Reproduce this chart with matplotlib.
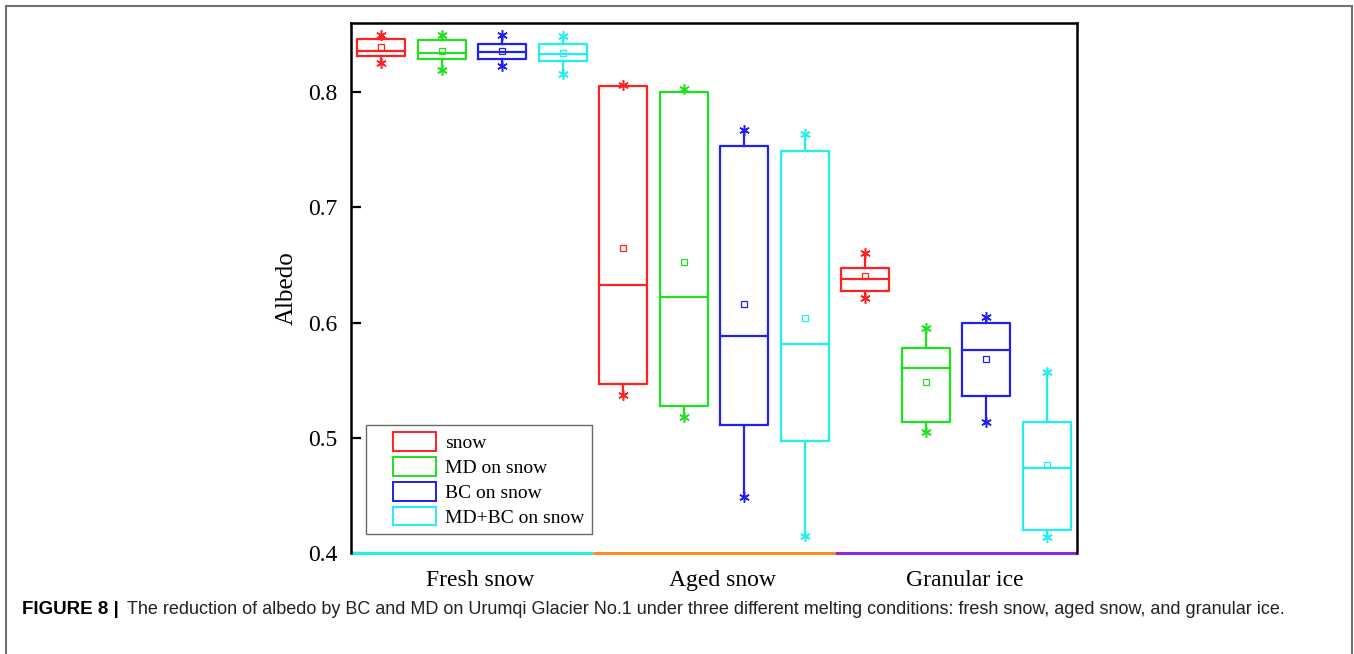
import numpy as np
import matplotlib.pyplot as plt
from matplotlib.patches import Rectangle, Patch
from matplotlib.legend_handler import HandlerPatch

# groups and series
groups = ["Fresh snow", "Aged snow", "Granular ice"]
series = ["snow", "MD on snow", "BC on snow", "MD+BC on snow"]
colors = ["#ff2020", "#20e020", "#2020f0", "#20f0f0"]
group_line_colors = ["#20f0f0", "#ff8c1a", "#8a2be2"]

# box statistics per group, per series
whislo = [[0.825, 0.819, 0.823, 0.816],
          [0.537, 0.518, 0.449, 0.415],
          [0.621, 0.505, 0.514, 0.414]]
q1 = [[0.831, 0.829, 0.829, 0.827],
      [0.547, 0.528, 0.511, 0.497],
      [0.627, 0.514, 0.536, 0.420]]
med = [[0.836, 0.834, 0.835, 0.833],
       [0.633, 0.622, 0.588, 0.581],
       [0.638, 0.561, 0.576, 0.474]]
q3 = [[0.846, 0.845, 0.842, 0.842],
      [0.805, 0.800, 0.753, 0.749],
      [0.647, 0.578, 0.600, 0.514]]
whishi = [[0.850, 0.850, 0.850, 0.849],
          [0.806, 0.803, 0.767, 0.764],
          [0.660, 0.595, 0.605, 0.557]]
means = [[0.839, 0.836, 0.836, 0.834],
         [0.665, 0.653, 0.616, 0.604],
         [0.640, 0.548, 0.568, 0.476]]

plt.rcParams["font.family"] = ["Liberation Serif", "DejaVu Serif"]

fig = plt.figure(figsize=(13.54, 6.54), dpi=100)
ax = fig.add_axes([351 / 1354, 1 - 553 / 654, 726 / 1354, 530 / 654])

for g in range(len(groups)):
    for i in range(len(series)):
        pos = g + 0.125 + 0.25 * i
        stats = [dict(med=med[g][i], q1=q1[g][i], q3=q3[g][i],
                      whislo=whislo[g][i], whishi=whishi[g][i],
                      mean=means[g][i], fliers=[])]
        c = colors[i]
        ax.bxp(stats, positions=[pos], widths=0.2, showmeans=True,
               showcaps=False, showfliers=False,
               boxprops=dict(color=c, linewidth=1.6),
               medianprops=dict(color=c, linewidth=1.6),
               whiskerprops=dict(color=c, linewidth=1.6),
               meanprops=dict(marker="s", markersize=5, markerfacecolor="none",
                              markeredgecolor=c, markeredgewidth=0.9))
        ax.plot([pos, pos], [whislo[g][i], whishi[g][i]], linestyle="none",
                marker=(6, 2, 0), markersize=7.5, color=c, markeredgewidth=1.1)

ax.set_xlim(0, 3)
ax.set_ylim(0.4, 0.86)
ax.set_yticks([0.4, 0.5, 0.6, 0.7, 0.8])
ax.set_yticklabels(["0.4", "0.5", "0.6", "0.7", "0.8"])
ax.set_xticks(np.arange(len(groups)) + 0.535)
ax.set_xticklabels(groups)
ax.tick_params(axis="y", direction="in", length=7, width=1.6, labelsize=17, pad=10)
ax.tick_params(axis="x", length=0, labelsize=17, pad=12)
ax.set_ylabel("Albedo", fontsize=18, labelpad=7)

for s in ["left", "right", "top"]:
    ax.spines[s].set_linewidth(1.8)
ax.spines["bottom"].set_visible(False)
for g in range(len(groups)):
    ax.plot([g, g + 1], [0.4, 0.4], color=group_line_colors[g], linewidth=2.2,
            clip_on=False, solid_capstyle="butt")


def offset_rect(legend, orig_handle, xdescent, ydescent, width, height, fontsize):
    # swatch sits in the right part of the handle area
    w = width * 0.69
    return Rectangle((-xdescent + width - w, -ydescent), w, height)


handles = [Patch(facecolor="white", edgecolor=c, linewidth=1.4) for c in colors]
leg = ax.legend(handles, series, loc="lower left", bbox_to_anchor=(0.021, 0.035),
                fontsize=14, frameon=True, fancybox=False, handlelength=3.2,
                handleheight=1.1, labelspacing=0.25, borderpad=0.4,
                borderaxespad=0, handletextpad=0.45,
                handler_map={Patch: HandlerPatch(patch_func=offset_rect)})
leg.get_frame().set_edgecolor("#444444")
leg.get_frame().set_linewidth(1.0)

# outer frame
fig.patches.append(Rectangle((6 / 1354, -0.05), 1346 / 1354, 1 - 6 / 654 + 0.05,
                             transform=fig.transFigure, fill=False,
                             edgecolor="#707070", linewidth=1.5))

fig.text(22 / 1354, 1 - 610 / 654, "FIGURE 8 |", fontsize=13.5, fontweight="bold",
         family="Liberation Sans", va="center", ha="left")
fig.text(127 / 1354, 1 - 610 / 654,
         "The reduction of albedo by BC and MD on Urumqi Glacier No.1 under three "
         "different melting conditions: fresh snow, aged snow, and granular ice.",
         fontsize=13, family="Liberation Sans", va="center", ha="left", color="#222222")

fig.savefig("out.png", dpi=100)
